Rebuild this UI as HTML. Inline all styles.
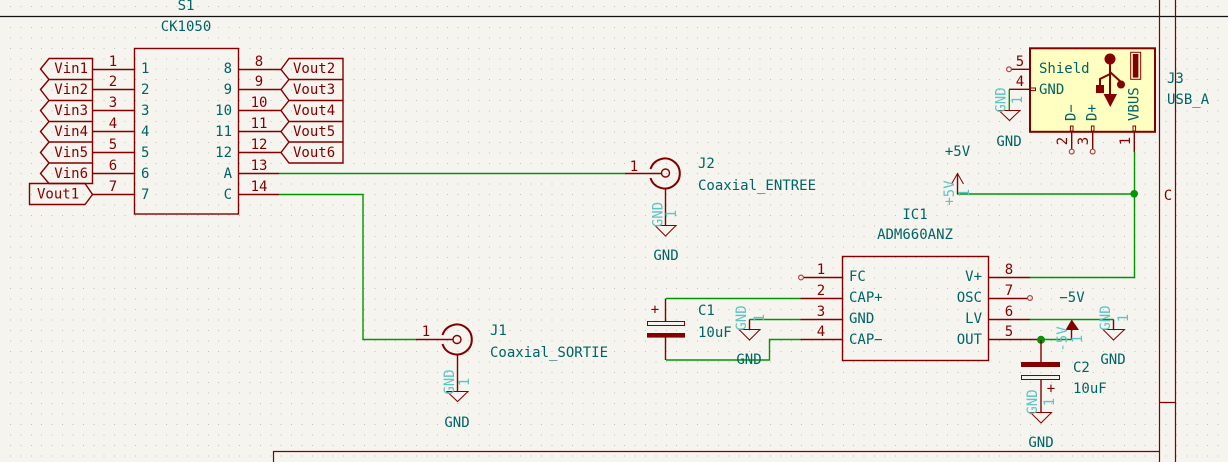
<!DOCTYPE html>
<html><head><meta charset="utf-8"><style>
html,body{margin:0;padding:0;background:#f5f4ef;width:1228px;height:462px;overflow:hidden}
svg{display:block}
text{font-family:"DejaVu Sans Mono","Liberation Mono",monospace;font-size:14px;dominant-baseline:central}
.t{fill:#006464}.r{fill:#840000}.l{fill:#5cc4c4}.m{text-anchor:middle}.e{text-anchor:end}
.p{stroke:#840000;stroke-width:1.4;fill:none}
.g{stroke:#009600;stroke-width:1.4;fill:none}
.s{stroke:#840000;stroke-width:1;fill:none}
</style></head><body>
<svg width="1228" height="462" viewBox="0 0 1228 462" xmlns="http://www.w3.org/2000/svg">
<rect width="1228" height="462" fill="#f5f4ef"/>
<path shape-rendering="crispEdges" fill="none" stroke="#c0c0ba" stroke-width="1" stroke-dasharray="1 9.41" d="M10 6.5H1228M10 27.4H1228M10 37.9H1228M10 48.3H1228M10 58.8H1228M10 69.2H1228M10 79.7H1228M10 90.1H1228M10 100.6H1228M10 111H1228M10 121.5H1228M10 131.9H1228M10 142.4H1228M10 152.8H1228M10 163.3H1228M10 173.7H1228M10 184.2H1228M10 194.6H1228M10 205.1H1228M10 215.5H1228M10 226H1228M10 236.4H1228M10 246.9H1228M10 257.3H1228M10 267.8H1228M10 278.2H1228M10 288.7H1228M10 299.1H1228M10 309.6H1228M10 320H1228M10 330.5H1228M10 340.9H1228M10 351.4H1228M10 361.8H1228M10 372.3H1228M10 382.7H1228M10 393.2H1228M10 403.6H1228M10 414.1H1228M10 424.5H1228M10 435H1228M10 445.4H1228M10 455.9H1228"/>

<!-- sheet frame -->
<path d="M0 16.5H1228" stroke="#111" stroke-width="1.2" fill="none"/>
<path d="M1159.5 0V462M1175.5 0V462M1160 402.5H1175M273.5 462V451.5H1160" class="s" style="stroke-width:1.2"/>
<text x="1168" y="196" class="r m">C</text>

<!-- S1 -->
<text x="186" y="6" class="t m">S1</text>
<text x="186" y="27" class="t m">CK1050</text>
<rect x="134.5" y="48.5" width="104" height="165.5" class="p"/>
<path class="p" d="M92.5 69.5H134.5M92.5 89.5H134.5M92.5 110.5H134.5M92.5 131.5H134.5M92.5 152.5H134.5M92.5 173.5H134.5M92.5 194.5H134.5M238.5 69.5H281M238.5 89.5H281M238.5 110.5H281M238.5 131.5H281M238.5 152.5H281M238.5 173.5H279M238.5 194.5H279"/>
<path class="p" d="M40.5 69 L49 58.5H92.5V79.5H49ZM40.5 89.5 L49 79.5H92.5V100.5H49ZM40.5 110.5 L49 100.5H92.5V121.5H49ZM40.5 131.5 L49 121.5H92.5V142H49ZM40.5 152.5 L49 142H92.5V163H49ZM40.5 173.5 L49 163H92.5V183.5H49Z"/>
<path class="p" d="M29.5 183.5H85L92.5 194.5L85 204.5H29.5Z"/>
<path class="p" d="M281 69.5L289 58.5H343V79.5H289ZM281 89.5L289 79.5H343V100.5H289ZM281 110.5L289 100.5H343V121.5H289ZM281 131.5L289 121.5H343V142H289ZM281 152.5L289 142H343V163H289Z"/>
<g class="r">
<text x="88" y="69" class="e">Vin1</text><text x="88" y="90" class="e">Vin2</text><text x="88" y="111" class="e">Vin3</text><text x="88" y="132" class="e">Vin4</text><text x="88" y="153" class="e">Vin5</text><text x="88" y="174" class="e">Vin6</text>
<text x="37" y="194.5">Vout1</text>
<text x="293" y="69">Vout2</text><text x="293" y="90">Vout3</text><text x="293" y="111">Vout4</text><text x="293" y="132">Vout5</text><text x="293" y="153">Vout6</text>
<g class="m">
<text x="113" y="62">1</text><text x="113" y="82">2</text><text x="113" y="103">3</text><text x="113" y="124">4</text><text x="113" y="145">5</text><text x="113" y="166">6</text><text x="113" y="187">7</text>
<text x="259" y="62">8</text><text x="259" y="82">9</text><text x="259" y="103">10</text><text x="259" y="124">11</text><text x="259" y="145">12</text><text x="259" y="166">13</text><text x="259" y="187">14</text>
</g></g>
<g class="t">
<text x="141" y="69">1</text><text x="141" y="90">2</text><text x="141" y="111">3</text><text x="141" y="132">4</text><text x="141" y="153">5</text><text x="141" y="174">6</text><text x="141" y="195">7</text>
<g class="e"><text x="232" y="69">8</text><text x="232" y="90">9</text><text x="232" y="111">10</text><text x="232" y="132">11</text><text x="232" y="153">12</text><text x="232" y="174">A</text><text x="232" y="195">C</text></g>
</g>

<!-- wires -->
<path class="g" d="M279 173.5H625M279 194.5H363V339.5H416"/>

<!-- J2 -->
<path class="p" d="M625 173.5H661"/>
<path d="M650.5 169A15 15 0 1 1 650.5 178" fill="none" stroke="#840000" stroke-width="2"/>
<circle cx="665.5" cy="173" r="4" fill="none" stroke="#840000" stroke-width="1.4"/>
<path class="p" d="M665.5 188V225.5"/>
<path class="s" d="M655 225.5H676L665.5 236Z"/>
<text x="634" y="167" class="r m">1</text>
<text x="698" y="164" class="t">J2</text>
<text x="698" y="186" class="t">Coaxial_ENTREE</text>
<text transform="translate(658.5 214.5) rotate(-90)" class="l m">GND</text>
<text transform="translate(672 214) rotate(-90)" class="l m">1</text>
<text x="666" y="256" class="t m">GND</text>

<!-- J1 -->
<path class="p" d="M416 339.5H453"/>
<path d="M442.5 335A15 15 0 1 1 442.5 344" fill="none" stroke="#840000" stroke-width="2"/>
<circle cx="457" cy="339.5" r="4" fill="none" stroke="#840000" stroke-width="1.4"/>
<path class="p" d="M457.5 355V391.5"/>
<path class="s" d="M447 391.5H468L457.5 401.5Z"/>
<text x="426" y="332" class="r m">1</text>
<text x="490" y="331" class="t">J1</text>
<text x="490" y="353" class="t">Coaxial_SORTIE</text>
<text transform="translate(450 382) rotate(-90)" class="l m">GND</text>
<text transform="translate(465 382) rotate(-90)" class="l m">1</text>
<text x="457" y="423" class="t m">GND</text>

<!-- IC1 -->
<text x="915" y="215" class="t m">IC1</text>
<text x="915" y="235" class="t m">ADM660ANZ</text>
<rect x="842.5" y="256.5" width="146" height="104" class="p"/>
<path class="p" d="M803 277.5H842.5M800.5 298.5H842.5M800.5 319.5H842.5M800.5 339.5H842.5M988.5 277.5H1030M988.5 298.5H1028M988.5 319.5H1030M988.5 339.5H1037"/>
<circle cx="801" cy="277.5" r="2.4" fill="none" stroke="#a84848" stroke-width="1.2"/>
<circle cx="1030" cy="298" r="2.4" fill="none" stroke="#a84848" stroke-width="1.2"/>
<g class="r m"><text x="821" y="270">1</text><text x="821" y="291">2</text><text x="821" y="312">3</text><text x="821" y="332">4</text>
<text x="1009" y="270">8</text><text x="1009" y="291">7</text><text x="1009" y="312">6</text><text x="1009" y="332">5</text></g>
<g class="t"><text x="849" y="277">FC</text><text x="849" y="298">CAP+</text><text x="849" y="319">GND</text><text x="849" y="340">CAP−</text>
<g class="e"><text x="982" y="277">V+</text><text x="982" y="298">OSC</text><text x="982" y="319">LV</text><text x="982" y="340">OUT</text></g></g>
<path class="g" d="M666 298.5H800.5M749.5 319.5H800.5M666 360H769.5V339.5H800.5M1030 277.5H1134.5V152M957 194H1134.5M1030 319.5H1113.5M1037 339.5H1071.5"/>
<circle cx="1134.2" cy="193.8" r="3.8" fill="#009600"/>
<circle cx="1041" cy="339.8" r="4" fill="#009600"/>

<!-- C1 -->
<path class="p" d="M665.5 298.5V321M665.5 337V360"/>
<rect x="647.5" y="321.5" width="37" height="4" class="p" style="stroke-width:1"/>
<rect x="647" y="333" width="38" height="4.6" fill="#840000"/>
<text x="655" y="310" class="r m">+</text>
<text x="698" y="311" class="t">C1</text>
<text x="698" y="333" class="t">10uF</text>
<path class="p" d="M749.5 319.5V329.5"/>
<path class="s" d="M739 329.5H760L749.5 340Z"/>
<text transform="translate(742 318) rotate(-90)" class="l m">GND</text>
<text transform="translate(760 318) rotate(-90)" class="l m">1</text>
<text x="749" y="360" class="t m">GND</text>

<!-- -5V + GND right -->
<text x="1072" y="298" class="t m">−5V</text>
<path class="p" d="M1071.5 339.5V328"/>
<path d="M1071.7 319.5L1079 330H1065.5Z" fill="#840000"/>
<text transform="translate(1063 339) rotate(-90)" class="l m">-5V</text>
<text transform="translate(1078 339) rotate(-90)" class="l m">1</text>
<path class="p" d="M1113.5 319.5V329.5"/>
<path class="s" d="M1103 329.5H1124.5L1113.5 340Z"/>
<text transform="translate(1106 318) rotate(-90)" class="l m">GND</text>
<text transform="translate(1124 318) rotate(-90)" class="l m">1</text>
<text x="1113" y="360" class="t m">GND</text>

<!-- C2 -->
<path class="p" d="M1041 340V362M1041 379V412"/>
<rect x="1021" y="362" width="39" height="5" fill="#840000"/>
<rect x="1021.5" y="375.5" width="38" height="4" class="p" style="stroke-width:1"/>
<text x="1051" y="389" class="r m">+</text>
<text x="1073" y="368" class="t">C2</text>
<text x="1073" y="389" class="t">10uF</text>
<path class="s" d="M1030.5 412.5H1051.5L1041 423Z"/>
<text transform="translate(1033 402) rotate(-90)" class="l m">GND</text>
<text transform="translate(1050 402) rotate(-90)" class="l m">1</text>
<text x="1041" y="443" class="t m">GND</text>

<!-- +5V -->
<text x="957.5" y="152" class="t m">+5V</text>
<path class="p" d="M957.5 194V173.5"/>
<path class="s" d="M951.5 184L957.5 173.5L963.5 184"/>
<text transform="translate(950 193) rotate(-90)" class="l m">+5V</text>
<text transform="translate(965 193) rotate(-90)" class="l m">1</text>

<!-- J3 -->
<rect x="1030" y="48.3" width="125" height="83.5" fill="#ffffc2" stroke="#840000" stroke-width="2"/>
<path class="p" d="M1011.5 69.3H1030M1009 89.3H1036M1071.7 126V149M1092.7 126V149M1134.3 126V152"/>
<circle cx="1009" cy="69.3" r="2.4" fill="none" stroke="#a84848" stroke-width="1.2"/>
<circle cx="1071.7" cy="151.6" r="2.4" fill="none" stroke="#a84848" stroke-width="1.2"/>
<circle cx="1092.7" cy="151.6" r="2.4" fill="none" stroke="#a84848" stroke-width="1.2"/>
<rect x="1030.5" y="88" width="5" height="2.6" fill="#ffffc2" stroke="#840000" stroke-width="1"/>
<rect x="1070.4" y="126" width="2.6" height="5" fill="#ffffc2" stroke="#840000" stroke-width="1"/>
<rect x="1091.4" y="126" width="2.6" height="5" fill="#ffffc2" stroke="#840000" stroke-width="1"/>
<rect x="1133" y="126" width="2.6" height="5" fill="#ffffc2" stroke="#840000" stroke-width="1"/>
<path class="g" d="M1009.3 89.5V110.5"/>
<path class="s" d="M999 110.5H1020L1009.5 120.5Z"/>
<text transform="translate(1001.5 100) rotate(-90)" class="l m">GND</text>
<text transform="translate(1018 100) rotate(-90)" class="l m">1</text>
<text x="1009" y="142" class="t m">GND</text>
<text x="1020" y="62" class="r m">5</text>
<text x="1020" y="82" class="r m">4</text>
<text transform="translate(1063 141) rotate(-90)" class="r m">2</text>
<text transform="translate(1084 141) rotate(-90)" class="r m">3</text>
<text transform="translate(1126 141) rotate(-90)" class="r m">1</text>
<text x="1039" y="69" class="t">Shield</text>
<text x="1039" y="90" class="t">GND</text>
<text transform="translate(1071.7 121) rotate(-90)" class="t">D−</text>
<text transform="translate(1092.7 121) rotate(-90)" class="t">D+</text>
<text transform="translate(1134.5 121) rotate(-90)" class="t">VBUS</text>
<circle cx="1110" cy="59" r="5.5" fill="#840000"/>
<path d="M1110 60V96M1110 74L1100 79V86M1110 72L1121 82" fill="none" stroke="#840000" stroke-width="2"/>
<rect x="1096" y="85" width="8" height="8" fill="#840000"/>
<circle cx="1121" cy="84.5" r="4" fill="#840000"/>
<path d="M1103.5 94H1117L1110.3 107Z" fill="#840000"/>
<rect x="1130.7" y="52.3" width="10" height="27" fill="none" stroke="#840000" stroke-width="1"/>
<rect x="1132.8" y="54" width="5.6" height="23.6" fill="#840000"/>
<text x="1167" y="79" class="t">J3</text>
<text x="1167" y="100" class="t">USB_A</text>
</svg>
</body></html>
